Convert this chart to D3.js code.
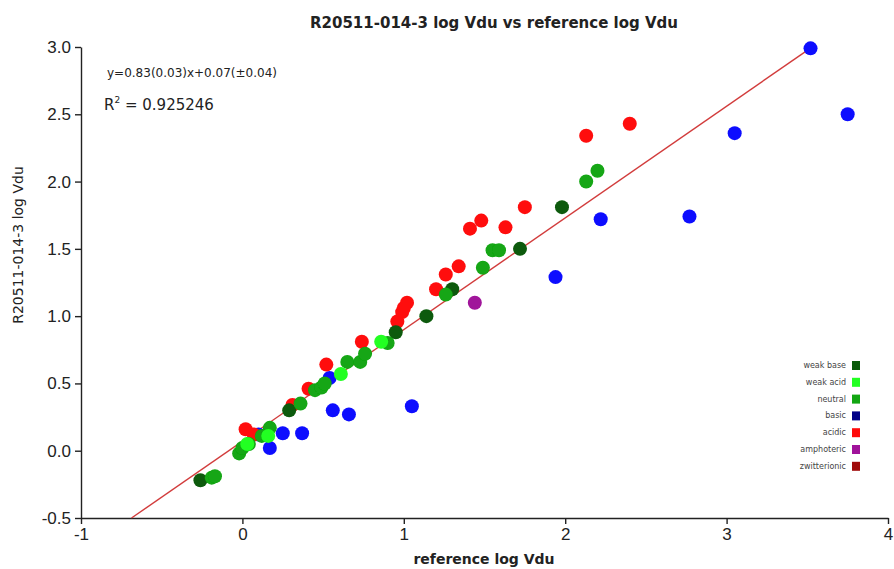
<!DOCTYPE html>
<html lang="en">
<head>
  <meta charset="UTF-8">
  <title>R20511-014-3 log Vdu vs reference log Vdu</title>
  <script src="https://d3js.org/d3.v7.min.js"></script>
  <style>
    body { margin: 0; background: #fff; }
    svg { display: block; font-family: "DejaVu Sans", sans-serif; }
    .axis path, .axis line { stroke: #222; stroke-width: 1.4px; }
    .axis text { font-size: 17px; fill: #222; }
  </style>
</head>
<body>
  <div id="chart"></div>
  <script>
    // data: [reference log Vdu, R20511-014-3 log Vdu]
    const basic = [[0.10,0.12],[0.17,0.02],[0.25,0.13],[0.37,0.13],[0.54,0.54],[0.56,0.30],[0.66,0.27],[1.05,0.33],
      [1.94,1.29],[2.22,1.72],[2.77,1.74],[3.05,2.36],[3.52,2.99],[3.75,2.50]];
    const acidic = [[0.02,0.16],[0.07,0.12],[0.31,0.34],[0.41,0.46],[0.52,0.64],[0.74,0.81],[0.96,0.96],[0.99,1.03],
      [1.00,1.06],[1.02,1.10],[1.20,1.20],[1.26,1.31],[1.34,1.37],[1.41,1.65],[1.48,1.71],[1.63,1.66],[1.75,1.81],
      [2.13,2.34],[2.40,2.43]];
    const amphoteric = [[1.44,1.10]];
    const zwitterionic = [];
    const weakBase = [[-0.26,-0.22],[0.29,0.30],[0.95,0.88],[1.14,1.00],[1.30,1.20],[1.72,1.50],[1.98,1.81]];
    const neutral = [[-0.19,-0.20],[-0.17,-0.19],[-0.02,-0.02],[0.00,0.02],[0.04,0.05],[0.12,0.11],[0.17,0.17],
      [0.36,0.35],[0.45,0.45],[0.49,0.47],[0.51,0.50],[0.65,0.66],[0.73,0.66],[0.76,0.72],[0.90,0.80],[1.26,1.16],
      [1.49,1.36],[1.55,1.49],[1.59,1.49],[2.13,2.00],[2.20,2.08]];
    const weakAcid = [[0.03,0.05],[0.16,0.11],[0.61,0.57],[0.86,0.81]];

    const legendNames = ['weak base', 'weak acid', 'neutral', 'basic', 'acidic', 'amphoteric', 'zwitterionic'];
    const legendColors = ['#0a5a0a', '#22ff22', '#12a612', '#000088', '#ff0a0a', '#a0129a', '#a00a0a'];

    // draw order (later on top)
    const series = [
      { pts: basic, color: '#0a0aff' },
      { pts: acidic, color: '#ff0a0a' },
      { pts: amphoteric, color: '#a0129a' },
      { pts: zwitterionic, color: '#a00a0a' },
      { pts: weakBase, color: '#0a5a0a' },
      { pts: neutral, color: '#12a612' },
      { pts: weakAcid, color: '#22ff22' }
    ];

    const slope = 0.83, intercept = 0.07;
    const fitX = [-0.687, 3.52];
    const xTicks = [-1, 0, 1, 2, 3, 4];
    const yTicks = [-0.5, 0, 0.5, 1, 1.5, 2, 2.5, 3];

    const W = 894, H = 569;
    const svg = d3.select('#chart').append('svg').attr('width', W).attr('height', H);

    const x = d3.scaleLinear().domain([-1, 4]).range([81, 888]);
    const y = d3.scaleLinear().domain([-0.5, 3]).range([518, 47]);

    svg.append('defs').append('filter').attr('id', 'soft')
      .append('feGaussianBlur').attr('stdDeviation', 0.6);

    // plain hyphen for negatives, like the original
    const fx = d => String(d);
    const fy = d => d.toFixed(1);

    svg.append('g').attr('class', 'axis')
      .attr('transform', `translate(0,${y(-0.5)})`)
      .call(d3.axisBottom(x).tickValues(xTicks).tickFormat(fx).tickSize(6).tickSizeOuter(0).tickPadding(4));

    svg.append('g').attr('class', 'axis')
      .attr('transform', `translate(${x(-1)},0)`)
      .call(d3.axisLeft(y).tickValues(yTicks).tickFormat(fy).tickSize(6).tickSizeOuter(0).tickPadding(4));

    // regression line
    svg.append('line')
      .attr('x1', x(fitX[0])).attr('y1', y(slope * fitX[0] + intercept))
      .attr('x2', x(fitX[1])).attr('y2', y(slope * fitX[1] + intercept))
      .attr('stroke', '#d23c3c').attr('stroke-width', 1.4);

    const pg = svg.append('g').attr('filter', 'url(#soft)');
    series.forEach(s => {
      pg.selectAll(null).data(s.pts).join('circle')
        .attr('cx', d => x(d[0])).attr('cy', d => y(d[1]))
        .attr('r', 7).attr('fill', s.color);
    });

    svg.append('text').attr('x', 494).attr('y', 28).attr('text-anchor', 'middle')
      .attr('font-size', 15).attr('font-weight', 'bold').attr('fill', '#222')
      .text('R20511-014-3 log Vdu vs  reference log Vdu');

    svg.append('text').attr('x', 107).attr('y', 77)
      .attr('font-size', 12).attr('fill', '#222')
      .text('y=0.83(0.03)x+0.07(±0.04)');

    const r2 = svg.append('text').attr('x', 104).attr('y', 110)
      .attr('font-size', 15).attr('fill', '#222');
    r2.append('tspan').text('R');
    r2.append('tspan').attr('font-size', 9).attr('dy', -7).text('2');
    r2.append('tspan').attr('dy', 7).text(' = 0.925246');

    svg.append('text').attr('transform', 'translate(23,245) rotate(-90)')
      .attr('text-anchor', 'middle').attr('font-size', 14).attr('fill', '#222')
      .text('R20511-014-3 log Vdu');

    svg.append('text').attr('x', 484).attr('y', 564).attr('text-anchor', 'middle')
      .attr('font-size', 14).attr('font-weight', 'bold').attr('fill', '#222')
      .text('reference log Vdu');

    const lg = svg.append('g');
    legendNames.forEach((n, i) => {
      const yy = 365 + i * 16.8;
      lg.append('text').attr('x', 846).attr('y', yy + 3).attr('text-anchor', 'end')
        .attr('font-size', 8).attr('fill', '#444').text(n);
      lg.append('rect').attr('x', 852).attr('y', yy - 4).attr('width', 8).attr('height', 9)
        .attr('fill', legendColors[i]);
    });
  </script>
</body>
</html>
